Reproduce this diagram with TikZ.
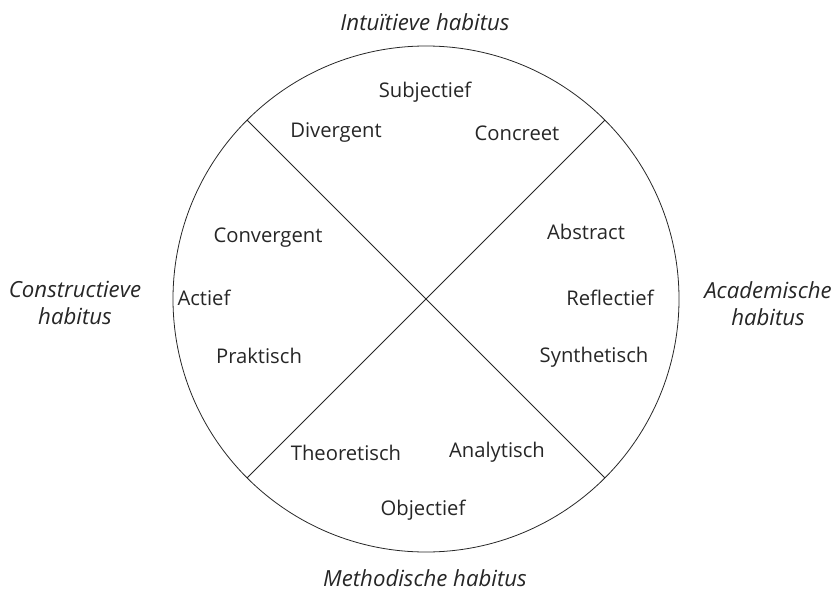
\documentclass[tikz,border=0pt]{standalone}
\usepackage{fontspec}
\setmainfont{Open Sans}
\begin{document}
\begin{tikzpicture}[x=1bp,y=-1bp,
  lbl/.style={font=\fontsize{20.3}{24}\selectfont, text=black!85},
  hab/.style={font=\fontsize{22.3}{27}\selectfont\itshape, align=center, text=black!85},
  ln/.style={line width=0.8pt, black!85}]
\useasboundingbox (0,0) rectangle (833,592);
\coordinate (c) at (426,299);
\draw[ln] (c) circle (253);
\path (c) ++(-178.9,-178.9) coordinate (tl)
      (c) ++(178.9,178.9) coordinate (br)
      (c) ++(178.9,-178.9) coordinate (tr)
      (c) ++(-178.9,178.9) coordinate (bl);
\draw[ln] (tl) -- (br);
\draw[ln] (tr) -- (bl);
\node[hab] (top) at (425,22) {Intuïtieve habitus};
\node[hab] (bot) at (425,578) {Methodische habitus};
\node[hab] (lft) at (75,303) {Constructieve\\habitus};
\node[hab] (rgt) at (768,304) {Academische\\habitus};
\node[lbl] (subj) at (425,92) {Subjectief};
\node[lbl] (div) at (336,133) {Divergent};
\node[lbl] (conc) at (517,133) {Concreet};
\node[lbl] (conv) at (268,238) {Convergent};
\node[lbl] (act) at (204,298) {Actief};
\node[lbl] (prak) at (259,356) {Praktisch};
\node[lbl] (abs) at (586,232) {Abstract};
\node[lbl] (refl) at (610,298) {Reflectief};
\node[lbl] (syn) at (594,357) {Synthetisch};
\node[lbl] (theo) at (346,453) {Theoretisch};
\node[lbl] (ana) at (497,452) {Analytisch};
\node[lbl] (obj) at (423,510) {Objectief};
\end{tikzpicture}
\end{document}
